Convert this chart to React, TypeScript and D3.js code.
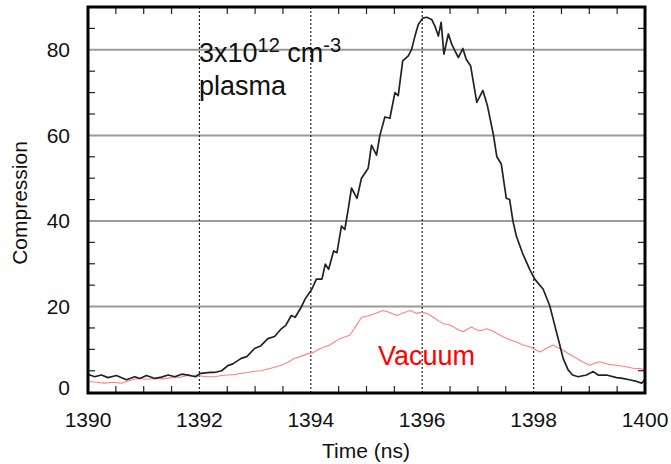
import React from "react";
import * as d3 from "d3";

const plasmaTime = [
  1390.0, 1390.12, 1390.24, 1390.36, 1390.51, 1390.69, 1390.84, 1390.93, 1391.05, 1391.2,
  1391.32, 1391.44, 1391.56, 1391.68, 1391.83, 1391.93, 1392.02, 1392.2, 1392.27, 1392.4,
  1392.51, 1392.6, 1392.75, 1392.85, 1392.99, 1393.1, 1393.23, 1393.35, 1393.47, 1393.55,
  1393.65, 1393.72, 1393.83, 1393.9, 1394.02, 1394.1, 1394.2, 1394.26, 1394.32, 1394.41,
  1394.47, 1394.55, 1394.61, 1394.67, 1394.73, 1394.83, 1394.91, 1395.03, 1395.09, 1395.18,
  1395.24, 1395.33, 1395.42, 1395.51, 1395.57, 1395.65, 1395.75, 1395.81, 1395.87, 1395.93,
  1396.01, 1396.08, 1396.17, 1396.23, 1396.29, 1396.34, 1396.39, 1396.47, 1396.53, 1396.59,
  1396.65, 1396.73, 1396.79, 1396.87, 1396.98, 1397.09, 1397.17, 1397.28, 1397.34, 1397.42,
  1397.51, 1397.57, 1397.63, 1397.69, 1397.8, 1397.93, 1398.02, 1398.17, 1398.29, 1398.38,
  1398.47, 1398.53, 1398.62, 1398.7, 1398.8, 1398.95, 1399.07, 1399.16, 1399.31, 1399.49,
  1399.6, 1399.72, 1399.85, 1399.94, 1400.0,
];
const plasmaValue = [
  4.2, 3.6, 4.0, 3.4, 3.9, 2.9, 3.6, 3.2, 3.9, 3.2,
  3.5, 4.0, 3.6, 4.2, 3.9, 3.6, 4.4, 4.6, 4.6, 5.0,
  6.2, 6.6, 7.9, 8.3, 10.2, 10.8, 12.5, 13.0, 14.8, 15.6,
  17.9, 17.5, 19.9, 21.8, 24.1, 26.4, 26.4, 29.9, 28.7, 33.0,
  32.6, 38.8, 38.0, 42.6, 47.7, 45.3, 50.0, 52.3, 57.7, 55.4,
  60.0, 64.3, 64.0, 70.0, 69.3, 77.4, 78.6, 80.1, 83.2, 85.9,
  87.4, 87.6, 87.1, 85.5, 83.2, 86.4, 79.0, 83.7, 81.3, 79.7,
  78.2, 80.3, 77.8, 76.2, 67.7, 70.5, 67.0, 60.0, 55.0, 53.3,
  45.3, 45.0, 39.9, 36.5, 32.5, 28.7, 26.4, 24.1, 20.2, 15.6,
  11.0, 7.9, 5.2, 4.0, 3.6, 4.0, 4.8, 4.0, 4.0, 3.4,
  3.2, 2.9, 2.5, 2.1, 2.9,
];

const vacuumTime = [
  1390.0, 1390.15, 1390.3, 1390.45, 1390.6, 1390.75, 1390.9, 1391.05, 1391.2, 1391.35,
  1391.5, 1391.65, 1391.8, 1392.0, 1392.15, 1392.27, 1392.4, 1392.51, 1392.63, 1392.75,
  1392.87, 1392.99, 1393.11, 1393.23, 1393.35, 1393.47, 1393.59, 1393.71, 1393.81, 1393.95,
  1394.05, 1394.17, 1394.34, 1394.52, 1394.7, 1394.82, 1394.91, 1395.06, 1395.18, 1395.3,
  1395.42, 1395.54, 1395.66, 1395.78, 1395.9, 1395.99, 1396.1, 1396.2, 1396.3, 1396.38,
  1396.47, 1396.56, 1396.65, 1396.74, 1396.82, 1396.89, 1396.98, 1397.07, 1397.16, 1397.25,
  1397.36, 1397.46, 1397.58, 1397.69, 1397.81, 1397.93, 1398.02, 1398.11, 1398.23, 1398.35,
  1398.44, 1398.53, 1398.65, 1398.77, 1398.89, 1399.01, 1399.1, 1399.19, 1399.34, 1399.49,
  1399.64, 1399.79, 1399.9, 1400.0,
];
const vacuumValue = [
  2.5, 2.3, 2.1, 2.3, 2.1, 2.7, 3.2, 3.0, 3.2, 3.1,
  3.4, 3.5, 3.9, 3.8, 3.6, 3.6, 3.9, 4.0, 4.1, 4.4,
  4.6, 4.9, 5.0, 5.4, 5.8, 6.3, 7.0, 7.9, 8.3, 9.0,
  9.3, 10.2, 11.0, 12.5, 13.3, 15.6, 17.5, 17.9, 18.5, 19.1,
  18.6, 17.9, 18.5, 19.1, 18.4, 18.7, 18.3, 17.5, 16.6, 16.0,
  15.8, 15.2, 14.6, 14.1, 14.8, 15.2, 14.5, 14.4, 14.8, 14.4,
  13.6, 12.9, 12.2, 11.7, 11.0, 10.6, 10.0, 9.4, 10.2, 11.0,
  10.4, 9.8, 8.8, 7.9, 7.0, 6.3, 6.8, 7.1, 6.5, 6.3,
  6.0, 5.6, 5.5, 5.3,
];

const xMajorTicks = [1390, 1392, 1394, 1396, 1398, 1400];
const xGridTicks = [1392, 1394, 1396, 1398];
const xMinorTicks = [1390.5, 1391, 1391.5, 1392.5, 1393, 1393.5, 1394.5, 1395, 1395.5, 1396.5, 1397, 1397.5, 1398.5, 1399, 1399.5];
const yMajorTicks = [0, 20, 40, 60, 80];
const yGridTicks = [20, 40, 60, 80];
const yMinorTicks = [5, 10, 15, 25, 30, 35, 45, 50, 55, 65, 70, 75, 85];

const FONT = "'Liberation Sans', Arial, sans-serif";

export default function App() {
  const left = 88, right = 645, top = 7, bottom = 393;
  const x = d3.scaleLinear().domain([1390, 1400]).range([left, right]);
  const y = d3.scaleLinear().domain([-0.2, 90]).range([bottom, top]);

  const plasma = plasmaTime.map((t, i) => [t, plasmaValue[i]] as [number, number]);
  const vacuum = vacuumTime.map((t, i) => [t, vacuumValue[i]] as [number, number]);
  const line = d3.line<[number, number]>().x((d) => x(d[0])).y((d) => y(d[1]));

  const tickLen = 7;

  return (
    <div style={{ position: "fixed", left: 0, top: 0 }}>
      <svg width={671} height={464} style={{ display: "block", background: "#fff" }} fontFamily={FONT}>
        <rect x={0} y={0} width={671} height={464} fill="#fff" />
        {/* horizontal grid */}
        {yGridTicks.map((v) => (
          <line key={"hg" + v} x1={left} x2={right} y1={y(v)} y2={y(v)} stroke="#9a9a9a" strokeWidth={2} />
        ))}
        {/* vertical grid */}
        {xGridTicks.map((t) => (
          <line key={"vg" + t} x1={x(t)} x2={x(t)} y1={top} y2={bottom} stroke="#222" strokeWidth={1.2} strokeDasharray="2,2" />
        ))}
        {/* minor ticks */}
        {xMinorTicks.map((t) => (
          <g key={"xt" + t}>
            <line x1={x(t)} x2={x(t)} y1={bottom} y2={bottom - tickLen} stroke="#222" strokeWidth={1.2} />
            <line x1={x(t)} x2={x(t)} y1={top} y2={top + tickLen} stroke="#222" strokeWidth={1.2} />
          </g>
        ))}
        {yMinorTicks.map((v) => (
          <g key={"yt" + v}>
            <line x1={left} x2={left + tickLen} y1={y(v)} y2={y(v)} stroke="#222" strokeWidth={1.2} />
            <line x1={right} x2={right - tickLen} y1={y(v)} y2={y(v)} stroke="#222" strokeWidth={1.2} />
          </g>
        ))}
        {/* data */}
        <path d={line(vacuum) || ""} fill="none" stroke="#ff8080" strokeWidth={1.1} strokeLinejoin="round" />
        <path d={line(plasma) || ""} fill="none" stroke="#222" strokeWidth={1.7} strokeLinejoin="round" />
        {/* frame */}
        <rect x={left} y={top} width={right - left} height={bottom - top} fill="none" stroke="#000" strokeWidth={3} />
        {/* tick labels */}
        {xMajorTicks.map((t) => (
          <text key={"xl" + t} x={x(t)} y={427} textAnchor="middle" fontSize={21} fill="#111">
            {t}
          </text>
        ))}
        {yMajorTicks.map((v) => (
          <text key={"yl" + v} x={70} y={Math.min(y(v), 387) + 7.5} textAnchor="end" fontSize={21} fill="#111">
            {v}
          </text>
        ))}
        {/* axis titles */}
        <text x={366} y={458} textAnchor="middle" fontSize={21} fill="#111">
          Time (ns)
        </text>
        <text transform={`translate(27,203) rotate(-90)`} textAnchor="middle" fontSize={21} fill="#111">
          Compression
        </text>
        {/* annotations */}
        <text x={199} y={62} fontSize={27} fill="#111">
          3x10
          <tspan dy={-10} fontSize={20}>12</tspan>
          <tspan dy={10}> cm</tspan>
          <tspan dy={-10} fontSize={20}>-3</tspan>
        </text>
        <text x={199} y={95} fontSize={27} fill="#111">
          plasma
        </text>
        <text x={378} y={365} fontSize={27} fill="#ff0000">
          Vacuum
        </text>
      </svg>
    </div>
  );
}
